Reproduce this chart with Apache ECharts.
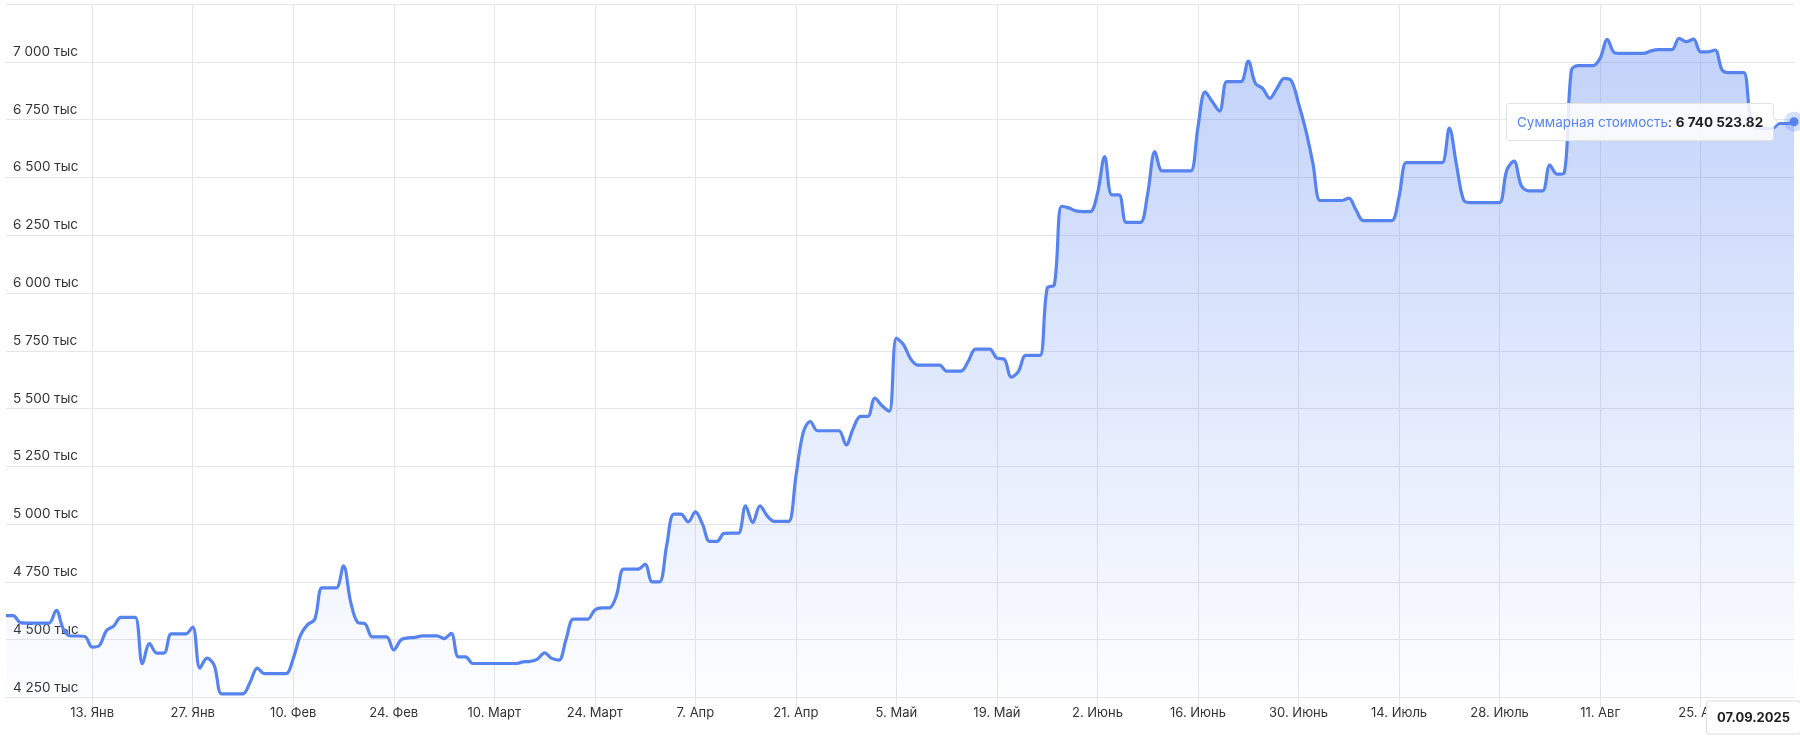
<!DOCTYPE html>
<html>
<head>
<meta charset="utf-8">
<script src="https://cdn.jsdelivr.net/npm/echarts@6/dist/echarts.min.js"></script>
<style>
  html, body { margin: 0; padding: 0; background: #fff; }
  #chart { width: 1800px; height: 741px; }
</style>
</head>
<body>
<div id="chart"></div>
<script>
// ---- data ----
const seriesName = 'Суммарная стоимость';
const startDate = '2025-01-01';           // first daily point
// daily total value, thousands of rubles (01.01.2025 ... 07.09.2025)
const valuesK = [
  4604, 4604, 4574, 4572, 4572, 4572, 4572, 4627, 4545, 4516,
  4516, 4514, 4468, 4475, 4540, 4559, 4597, 4597, 4597, 4396,
  4483, 4442, 4442, 4525, 4525, 4525, 4555, 4377, 4420, 4389,
  4266, 4266, 4266, 4266, 4316, 4377, 4353, 4353, 4353, 4353,
  4418, 4519, 4565, 4588, 4724, 4724, 4724, 4819, 4663, 4574,
  4569, 4512, 4512, 4512, 4456, 4499, 4508, 4510, 4517, 4517,
  4517, 4505, 4527, 4426, 4426, 4397, 4397, 4397, 4397, 4397,
  4397, 4397, 4404, 4406, 4416, 4443, 4419, 4412, 4502, 4589,
  4589, 4589, 4629, 4638, 4638, 4690, 4805, 4805, 4805, 4826,
  4750, 4750, 4906, 5043, 5043, 5010, 5053, 5000, 4925, 4925,
  4960, 4961, 4961, 5079, 5007, 5079, 5036, 5012, 5012, 5012,
  5206, 5394, 5444, 5404, 5404, 5404, 5404, 5343, 5415, 5466,
  5466, 5545, 5512, 5488, 5805, 5776, 5714, 5688, 5688, 5688,
  5688, 5662, 5662, 5662, 5704, 5757, 5757, 5757, 5718, 5714,
  5636, 5661, 5730, 5730, 5730, 6021, 6036, 6375, 6368, 6355,
  6352, 6352, 6431, 6590, 6424, 6424, 6305, 6305, 6305, 6431,
  6611, 6528, 6528, 6528, 6528, 6528, 6719, 6870, 6827, 6787,
  6914, 6914, 6914, 7003, 6906, 6885, 6842, 6885, 6928, 6918,
  6820, 6705, 6561, 6400, 6400, 6400, 6400, 6410, 6359, 6313,
  6313, 6313, 6313, 6313, 6417, 6564, 6564, 6564, 6564, 6564,
  6564, 6713, 6553, 6401, 6391, 6391, 6391, 6391, 6391, 6531,
  6570, 6466, 6442, 6442, 6442, 6553, 6514, 6520, 6964, 6983,
  6983, 6983, 7015, 7097, 7039, 7036, 7036, 7036, 7036, 7046,
  7053, 7053, 7053, 7101, 7087, 7098, 7043, 7043, 7051, 6964,
  6953, 6953, 6953, 6750, 6712, 6712, 6712, 6733, 6733, 6740.52382
];
const tickDates = [
  '2025-01-13', '2025-01-27', '2025-02-10', '2025-02-24', '2025-03-10', '2025-03-24',
  '2025-04-07', '2025-04-21', '2025-05-05', '2025-05-19', '2025-06-02', '2025-06-16',
  '2025-06-30', '2025-07-14', '2025-07-28', '2025-08-11', '2025-08-25'
];
const tickLabels = [
  '13. Янв', '27. Янв', '10. Фев', '24. Фев', '10. Март', '24. Март',
  '7. Апр', '21. Апр', '5. Май', '19. Май', '2. Июнь', '16. Июнь',
  '30. Июнь', '14. Июль', '28. Июль', '11. Авг', '25. Авг'
];
const yMin = 4250000, yMax = 7250000, yStep = 250000;

// ---- build (x = day number counted from startDate) ----
function parseD(s) { const p = s.split('-'); return Date.UTC(+p[0], +p[1] - 1, +p[2]); }
const DAY = 86400000;
const start = parseD(startDate);
const lastIndex = valuesK.length - 1;
const LINE = '#5683f0';
const FONT = 'Inter, "Noto Sans", sans-serif';
const data = valuesK.map((v, i) => {
  const item = { value: [i, Math.round(v * 1000 * 100) / 100] };
  if (i === lastIndex) {
    item.symbol = 'circle';
    item.symbolSize = 9;
    item.itemStyle = { color: LINE, borderColor: 'rgba(86,131,240,0.25)', borderWidth: 11 };
  }
  return item;
});
const tickDays = tickDates.map(s => Math.round((parseD(s) - start) / DAY));
function grp(n) { return String(n).replace(/\B(?=(\d{3})+(?!\d))/g, ' '); }
function fmtMoney(v) { const s = v.toFixed(2).split('.'); return grp(s[0]) + '.' + s[1]; }
function pad(n) { return n < 10 ? '0' + n : '' + n; }
function dayLabel(dn) {
  const d = new Date(start + Math.round(dn) * DAY);
  return pad(d.getUTCDate()) + '.' + pad(d.getUTCMonth() + 1) + '.' + d.getUTCFullYear();
}

const chart = echarts.init(document.getElementById('chart'), null, { renderer: 'canvas' });
chart.setOption({
  animation: false,
  backgroundColor: '#ffffff',
  grid: { left: 6, right: 6, top: 4, bottom: 43.5, containLabel: false },
  tooltip: {
    trigger: 'item',
    position: 'left',
    alwaysShowContent: true,
    transitionDuration: 0,
    showDelay: 0,
    hideDelay: 100000,
    backgroundColor: 'rgba(255,255,255,0.85)',
    borderColor: '#e3e3e3',
    borderWidth: 1,
    padding: [8, 10],
    textStyle: { fontFamily: FONT, fontSize: 13.5, color: '#1f1f1f' },
    extraCssText: 'box-shadow:none;border-radius:3px;',
    formatter: function (p) {
      return '<span style="color:' + LINE + '">' + p.seriesName + '</span>: <b>' + fmtMoney(p.value[1]) + '</b>';
    }
  },
  xAxis: {
    type: 'value',
    min: 0,
    max: lastIndex,
    axisLine: { show: true, lineStyle: { color: '#e6e6e6', width: 1 } },
    axisTick: { show: true, customValues: tickDays, length: 10, lineStyle: { color: '#e6e6e6' } },
    splitLine: { show: true, lineStyle: { color: '#e6e6e6', width: 1 } },
    axisLabel: {
      customValues: tickDays,
      margin: 9,
      fontFamily: FONT,
      fontSize: 13,
      color: '#333333',
      formatter: function (v) {
        const k = tickDays.indexOf(Math.round(v));
        return k >= 0 ? tickLabels[k] : '';
      }
    },
    axisPointer: {
      show: true,
      status: 'show',
      value: lastIndex,
      triggerTooltip: false,
      type: 'line',
      lineStyle: { opacity: 0 },
      label: {
        show: true,
        margin: 4,
        backgroundColor: '#ffffff',
        borderColor: '#dddddd',
        borderWidth: 1,
        borderRadius: 3,
        padding: [10, 10, 9, 10],
        shadowBlur: 0,
        color: '#1f1f1f',
        fontFamily: FONT,
        fontWeight: 'bold',
        fontSize: 13,
        formatter: function (p) { return dayLabel(p.value); }
      }
    }
  },
  yAxis: {
    type: 'value',
    min: yMin,
    max: yMax,
    interval: yStep,
    position: 'left',
    axisLine: { show: false },
    axisTick: { show: false },
    splitLine: { show: true, lineStyle: { color: '#e6e6e6', width: 1 } },
    axisLabel: {
      inside: true,
      margin: 7,
      verticalAlign: 'bottom',
      padding: [0, 0, 3, 0],
      fontFamily: FONT,
      fontSize: 13.5,
      color: '#333333',
      formatter: function (v) {
        if (v >= yMax) return '';
        return grp(Math.round(v / 1000)) + ' тыс';
      }
    }
  },
  series: [{
    name: seriesName,
    type: 'line',
    data: data,
    smooth: 0.35,
    symbol: 'none',
    showSymbol: true,
    clip: true,
    lineStyle: { color: LINE, width: 3.2 },
    itemStyle: { color: LINE },
    areaStyle: {
      color: new echarts.graphic.LinearGradient(0, 0, 0, 1, [
        { offset: 0, color: 'rgba(86,131,240,0.52)' },
        { offset: 1, color: 'rgba(86,131,240,0.02)' }
      ])
    },
    emphasis: { disabled: true }
  }]
});
chart.dispatchAction({ type: 'showTip', seriesIndex: 0, dataIndex: lastIndex });
</script>
</body>
</html>
